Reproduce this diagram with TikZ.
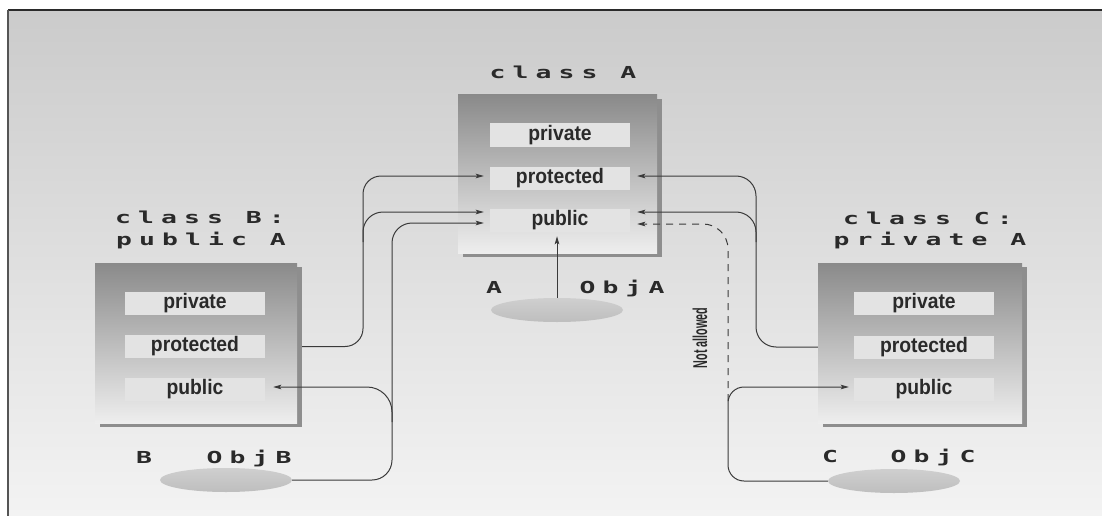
\documentclass[tikz,border=0pt]{standalone}
\usepackage{fontspec}
\setmainfont{Liberation Sans}
\newfontfamily\labelfont[LetterSpace=43,FakeStretch=1.6]{DejaVu Sans Mono}
\newfontfamily\barfont[FakeStretch=0.92]{Liberation Sans}
\newfontfamily\notefont[FakeStretch=0.54]{Liberation Sans}
\usetikzlibrary{arrows.meta,calc,shapes.geometric,backgrounds}

\definecolor{bgtop}{HTML}{CBCBCB}
\definecolor{bgbot}{HTML}{F3F3F3}
\definecolor{boxtop}{HTML}{8A8A8A}
\definecolor{boxbot}{HTML}{EEEEEE}
\definecolor{boxshade}{HTML}{8E8E8E}
\definecolor{barfill}{HTML}{E3E3E3}
\definecolor{barshade}{HTML}{8C8C8C}
\definecolor{objtop}{HTML}{CFCFCF}
\definecolor{objbot}{HTML}{BEBEBE}
\definecolor{ink}{HTML}{2A2A2A}
\definecolor{wire}{HTML}{3A3A3A}

\tikzset{
  classbox/.style={rectangle, inner sep=0pt, top color=boxtop, bottom color=boxbot, draw=none},
  member/.style={rectangle, inner sep=0pt, minimum width=140pt, minimum height=23pt,
    fill=barfill, text=ink, font=\barfont\bfseries\fontsize{21}{22}\selectfont},
  title/.style={inner sep=0pt, anchor=base, text=ink,
    font=\labelfont\bfseries\fontsize{16.5}{22}\selectfont},
  objlabel/.style={inner sep=0pt, anchor=base, text=ink,
    font=\labelfont\bfseries\fontsize{16.5}{22}\selectfont},
  object/.style={ellipse, inner sep=0pt, minimum width=132pt, minimum height=24pt,
    top color=objtop, bottom color=objbot, draw=none},
  conn/.style={draw=wire, line width=1pt, -{Stealth[length=8pt,width=4.5pt,inset=1.5pt]}},
  forbidden/.style={draw=wire, line width=1pt, dash pattern=on 7pt off 6pt,
    -{Stealth[length=8pt,width=4.5pt,inset=1.5pt]}},
}

\begin{document}
\begin{tikzpicture}[x=1pt, y=-1pt]
\useasboundingbox (0,0) rectangle (1102,516);

% ---- class A (base) ----
\node[classbox, minimum width=199pt, minimum height=158pt] (boxA) at (557.5,174) {};
\node[member] (Apriv) at (560,135) {private};
\node[member] (Aprot) at (560,178) {protected};
\node[member] (Apub)  at (560,220.5) {public};
\node[title] (tA) at (563,79) {class A};
\node[objlabel] (lA) at (494,293) {A};
\node[objlabel] (oA) at (622,293) {ObjA};
\node[object] (ellA) at (557,310) {};

% ---- class B : public A ----
\node[classbox, minimum width=202pt, minimum height=160pt] (boxB) at (196,343) {};
\node[member] (Bpriv) at (195,303.5) {private};
\node[member] (Bprot) at (195,346.5) {protected};
\node[member] (Bpub)  at (195,389) {public};
\node[title] (tB1) at (200,223) {class B:};
\node[title] (tB2) at (201,245) {public A};
\node[objlabel] (lB) at (144,463) {B};
\node[objlabel] (oB) at (249,463) {ObjB};
\node[object] (ellB) at (226,480) {};

% ---- class C : private A ----
\node[classbox, minimum width=204pt, minimum height=160pt] (boxC) at (920,343) {};
\node[member] (Cpriv) at (924,303.5) {private};
\node[member] (Cprot) at (924,347) {protected};
\node[member] (Cpub)  at (924,389) {public};
\node[title] (tC1) at (928,224) {class C:};
\node[title] (tC2) at (930,245) {private A};
\node[objlabel] (lC) at (830,462) {C};
\node[objlabel] (oC) at (933,462) {ObjC};
\node[object] (ellC) at (894,481) {};

% ---- page background, box and member shadows ----
\begin{scope}[on background layer]
  \fill[white] (0,0) rectangle (1102,516);
  \fill[top color=bgtop, bottom color=bgbot] (8,10) rectangle (1102,516);
  \draw[ink, line width=2pt] (1102,10) -- (8,10);
  \draw[ink!80, line width=1.5pt] (8,10) -- (8,516);
  \foreach \b in {boxA,boxB,boxC}
    \fill[boxshade] ($(\b.north west)+(5,4)$) rectangle ($(\b.south east)+(5,4)$);
  \foreach \m in {Apriv,Aprot,Apub,Bpriv,Bprot,Bpub,Cpriv,Cprot,Cpub}
    \fill[barshade] ($(\m.north west)+(1.5,2)$) rectangle ($(\m.south east)+(1.5,2)$);
\end{scope}

% ---- routing columns and arrow ends ----
\coordinate (xL1) at (363,0);
\coordinate (xL2) at (392,0);
\coordinate (xR1) at (756,0);
\coordinate (xR2) at (728,0);
\coordinate (tAprotL) at ($(Aprot.west)+(-6,-2)$);
\coordinate (tAprotR) at ($(Aprot.east)+(7,-2)$);
\coordinate (tApubL1) at ($(Apub.west)+(-6,-8.5)$);
\coordinate (tApubL2) at ($(Apub.west)+(-6,2.5)$);
\coordinate (tApubR1) at ($(Apub.east)+(7,-8.5)$);
\coordinate (tApubR2) at ($(Apub.east)+(7,3.5)$);
\coordinate (tBpub) at ($(Bpub.east)+(8,-2)$);
\coordinate (tCpub) at ($(Cpub.west)+(-5,-2)$);

% ObjA reaches its own public members
\draw[conn] (ellA.north) -- ($(ellA.north |- Apub.south)+(0,4)$);

% class B (public A) reaches A's protected and public members
\draw[conn, rounded corners=18pt] ($(boxB.east |- Bprot)+(5,0)$) -- (xL1 |- Bprot) -- (xL1 |- tAprotL) -- (tAprotL);
\draw[conn, rounded corners=20pt] ($(xL1 |- tApubL1)+(0,30)$) -- (xL1 |- tApubL1) -- (tApubL1);

% ObjB reaches A's public members and B's public members
\draw[conn, rounded corners=20pt] (ellB.east) -- (xL2 |- ellB.east) -- (xL2 |- tApubL2) -- (tApubL2);
\draw[conn, rounded corners=25pt] ($(xL2 |- tBpub)+(0,35)$) -- (xL2 |- tBpub) -- (tBpub);

% class C (private A) reaches A's protected and public members
\draw[conn, rounded corners=20pt] ($(boxC.west |- Cprot)$) -- (xR1 |- Cprot) -- (xR1 |- tAprotR) -- (tAprotR);
\draw[conn, rounded corners=20pt] ($(xR1 |- tApubR1)+(0,30)$) -- (xR1 |- tApubR1) -- (tApubR1);

% ObjC reaches C's public members, but not A's
\draw[conn, rounded corners=16pt] (ellC.west) -- (xR2 |- ellC.west) -- (xR2 |- tCpub) -- (tCpub);
\draw[forbidden, rounded corners=25pt] ($(xR2 |- tCpub)+(0,14)$) -- (xR2 |- tApubR2) -- (tApubR2);
\node[rotate=90, inner sep=0pt, text=ink, font=\notefont\bfseries\fontsize{20}{20}\selectfont] (na) at (700,338) {Not allowed};
\end{tikzpicture}
\end{document}
